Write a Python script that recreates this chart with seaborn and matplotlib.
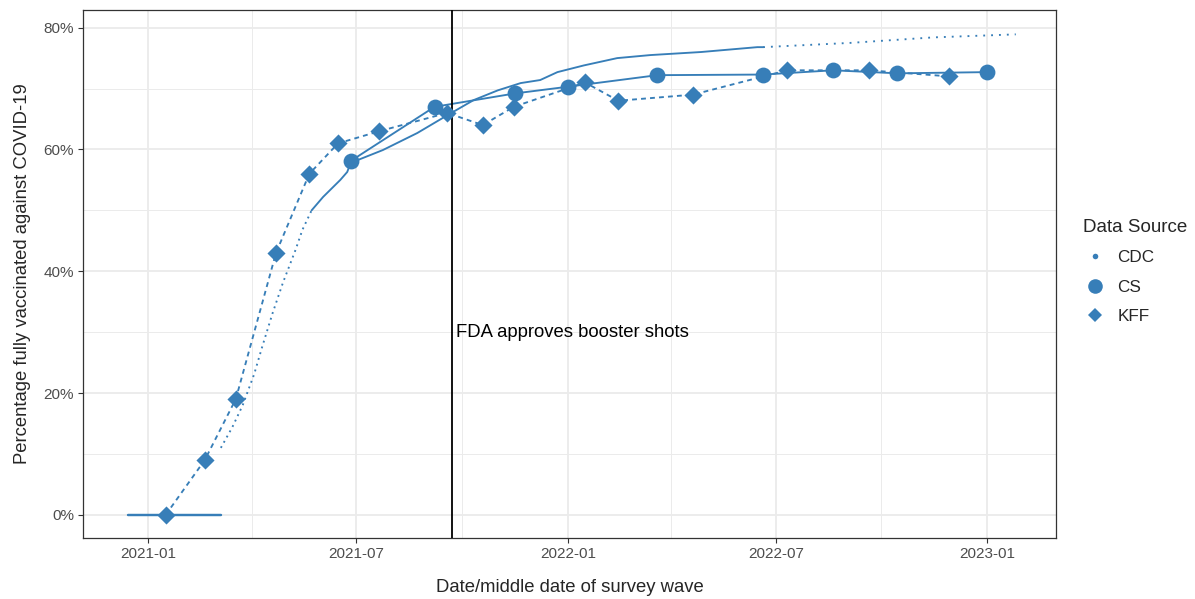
import matplotlib
matplotlib.use("Agg")
import matplotlib.pyplot as plt
import matplotlib.dates as mdates
from matplotlib.lines import Line2D
from matplotlib.ticker import MultipleLocator, FuncFormatter
import seaborn as sns
import pandas as pd

BLUE = "#377EB8"

# CDC cumulative share fully vaccinated
cdc_early_dates = ["2021-03-05", "2021-03-15", "2021-03-24", "2021-04-03", "2021-04-10",
                   "2021-04-19", "2021-04-28", "2021-05-09", "2021-05-15", "2021-05-23"]
cdc_early_values = [11.0, 14.4, 18.0, 23.1, 27.6, 33.1, 38.1, 43.5, 46.8, 50.0]

cdc_mid_dates = ["2021-05-23", "2021-06-02", "2021-06-17", "2021-06-23", "2021-06-26",
                 "2021-07-24", "2021-08-23", "2021-09-18", "2021-10-11", "2021-11-01",
                 "2021-11-21", "2021-12-08", "2021-12-23", "2022-01-15", "2022-02-13",
                 "2022-03-14", "2022-04-27", "2022-06-15", "2022-06-20"]
cdc_mid_values = [50.0, 52.2, 55.0, 56.3, 57.8, 59.9, 62.7, 65.6, 68.1, 69.7,
                  70.9, 71.4, 72.7, 73.8, 75.0, 75.5, 76.0, 76.8, 76.8]

cdc_late_dates = ["2022-06-20", "2022-09-04", "2022-11-15", "2023-01-26"]
cdc_late_values = [76.8, 77.5, 78.4, 78.9]

# horizontal segment at zero before the CDC curve
zero_dates = ["2020-12-14", "2021-03-05"]
zero_values = [0, 0]

# CS survey waves
cs_dates = ["2021-06-26", "2021-09-07", "2021-11-16", "2022-01-01", "2022-03-20",
            "2022-06-20", "2022-08-20", "2022-10-15", "2023-01-01"]
cs_values = [58.1, 67.0, 69.2, 70.3, 72.2, 72.3, 73.0, 72.5, 72.7]

# KFF survey waves
kff_dates = ["2021-01-16", "2021-02-19", "2021-03-18", "2021-04-22", "2021-05-21",
             "2021-06-15", "2021-07-21", "2021-09-18", "2021-10-19", "2021-11-15",
             "2022-01-16", "2022-02-14", "2022-04-20", "2022-07-11", "2022-09-20",
             "2022-11-29"]
kff_values = [0, 9, 19, 43, 56, 61, 63, 66, 64, 67, 71, 68, 69, 73, 73, 72]

booster_date = "2021-09-22"


def frame(dates, values):
    return pd.DataFrame({"date": pd.to_datetime(dates), "pct": values})


sns.set_style("ticks")
plt.rcParams["font.family"] = ["Liberation Sans", "DejaVu Sans"]

fig = plt.figure(figsize=(11.95, 5.99), dpi=100)
ax = fig.add_axes([83 / 1195, 61 / 599, (1056 - 83) / 1195, (538 - 10) / 599])

lw = 1.35
sns.lineplot(data=frame(cdc_early_dates, cdc_early_values), x="date", y="pct", ax=ax,
             color=BLUE, lw=lw, sort=False, estimator=None).lines[-1].set_dashes((1, 2.2))
sns.lineplot(data=frame(cdc_mid_dates, cdc_mid_values), x="date", y="pct", ax=ax,
             color=BLUE, lw=lw, sort=False, estimator=None)
sns.lineplot(data=frame(cdc_late_dates, cdc_late_values), x="date", y="pct", ax=ax,
             color=BLUE, lw=lw, sort=False, estimator=None).lines[-1].set_dashes((1, 3.2))
sns.lineplot(data=frame(zero_dates, zero_values), x="date", y="pct", ax=ax,
             color=BLUE, lw=lw + 0.4, sort=False, estimator=None)

cs = frame(cs_dates, cs_values)
kff = frame(kff_dates, kff_values)
sns.lineplot(data=cs, x="date", y="pct", ax=ax, color=BLUE, lw=lw, sort=False, estimator=None)
sns.lineplot(data=kff, x="date", y="pct", ax=ax, color=BLUE, lw=lw,
             sort=False, estimator=None).lines[-1].set_dashes((2.6, 2.2))
sns.scatterplot(data=cs, x="date", y="pct", ax=ax, color=BLUE, marker="o", s=130,
                linewidth=0, zorder=5)
sns.scatterplot(data=kff, x="date", y="pct", ax=ax, color=BLUE, marker="D", s=85,
                linewidth=0, zorder=5)

ax.axvline(pd.Timestamp(booster_date), color="black", lw=1.3, zorder=4)
ax.text(pd.Timestamp("2021-09-26"), 30, "FDA approves booster shots", fontsize=13.3,
        va="center", ha="left", color="black")

# axes, scales
ax.set_xlim(pd.Timestamp("2020-11-05"), pd.Timestamp("2023-03-02"))
ax.set_ylim(-3.8, 82.9)
ax.xaxis.set_major_locator(mdates.MonthLocator(bymonth=[1, 7]))
ax.xaxis.set_minor_locator(mdates.MonthLocator(bymonth=[4, 10]))
ax.xaxis.set_major_formatter(mdates.DateFormatter("%Y-%m"))
ax.yaxis.set_major_locator(MultipleLocator(20))
ax.yaxis.set_minor_locator(MultipleLocator(10))
ax.yaxis.set_major_formatter(FuncFormatter(lambda v, p: f"{v:.0f}%"))

ax.grid(which="major", color="#EBEBEB", lw=1.3, zorder=0)
ax.grid(which="minor", color="#EBEBEB", lw=0.7, zorder=0)
ax.set_axisbelow(True)
for sp in ax.spines.values():
    sp.set_visible(True)
    sp.set_color("#333333")
    sp.set_linewidth(0.9)
ax.tick_params(which="major", length=3.5, width=0.8, color="#333333",
               labelsize=11, labelcolor="#4D4D4D", pad=3)
ax.tick_params(which="minor", length=0)

ax.set_xlabel("Date/middle date of survey wave", fontsize=13.3, labelpad=13)
ax.set_ylabel("Percentage fully vaccinated against COVID-19", fontsize=13.3, labelpad=9)

handles = [
    Line2D([], [], ls="", marker="o", ms=4, color=BLUE, markeredgewidth=0),
    Line2D([], [], ls="", marker="o", ms=10.5, color=BLUE, markeredgewidth=0),
    Line2D([], [], ls="", marker="D", ms=7.5, color=BLUE, markeredgewidth=0),
]
leg = ax.legend(handles, ["CDC", "CS", "KFF"], title="Data Source", frameon=False,
                loc="center left", bbox_to_anchor=(1.012, 0.505), fontsize=12.3,
                title_fontsize=13.5, handletextpad=0.6, labelspacing=0.85,
                handlelength=1.4)
leg._legend_box.align = "left"

fig.savefig("out.png", dpi=100)
